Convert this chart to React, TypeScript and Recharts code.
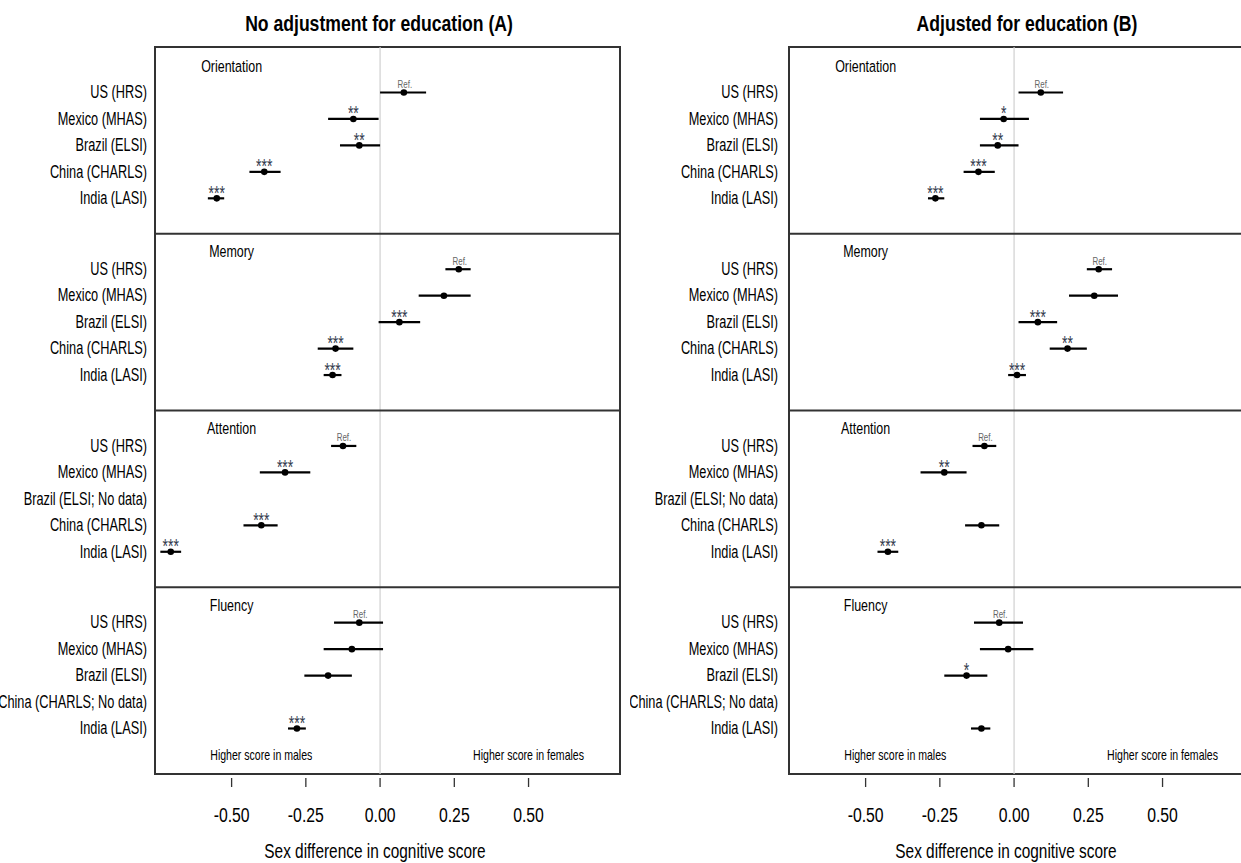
import React from 'react';
import { ScatterChart, Scatter, XAxis, YAxis, ErrorBar, ReferenceLine, ReferenceArea } from 'recharts';

const FONT = "'Liberation Sans', Arial, sans-serif";

const countries = ['US', 'Mexico', 'Brazil', 'China', 'India'];
const studies = ['HRS', 'MHAS', 'ELSI', 'CHARLS', 'LASI'];
const domains = ['Orientation', 'Memory', 'Attention', 'Fluency'];
const xTicks = [-0.5, -0.25, 0, 0.25, 0.5];
const notes = ['Higher score in males', 'Higher score in females'];

// Panel A: no adjustment for education (rows: domains, cols: countries)
const estA = [
  [0.08, -0.09, -0.07, -0.39, -0.55],
  [0.265, 0.215, 0.065, -0.15, -0.16],
  [-0.125, -0.32, null, -0.40, -0.705],
  [-0.07, -0.095, -0.175, null, -0.28],
];
const lowA = [
  [0.0, -0.175, -0.135, -0.44, -0.58],
  [0.22, 0.13, -0.005, -0.21, -0.19],
  [-0.165, -0.405, null, -0.46, -0.74],
  [-0.155, -0.19, -0.255, null, -0.31],
];
const highA = [
  [0.155, -0.005, 0.0, -0.335, -0.525],
  [0.305, 0.305, 0.135, -0.09, -0.13],
  [-0.08, -0.235, null, -0.345, -0.67],
  [0.01, 0.01, -0.095, null, -0.25],
];
const sigA = [
  ['Ref.', '**', '**', '***', '***'],
  ['Ref.', '', '***', '***', '***'],
  ['Ref.', '***', '', '***', '***'],
  ['Ref.', '', '', '', '***'],
];

// Panel B: adjusted for education
const estB = [
  [0.09, -0.035, -0.055, -0.12, -0.265],
  [0.285, 0.27, 0.08, 0.18, 0.01],
  [-0.10, -0.235, null, -0.11, -0.425],
  [-0.05, -0.02, -0.16, null, -0.11],
];
const lowB = [
  [0.015, -0.115, -0.115, -0.17, -0.29],
  [0.245, 0.185, 0.015, 0.12, -0.02],
  [-0.14, -0.315, null, -0.165, -0.46],
  [-0.135, -0.115, -0.235, null, -0.145],
];
const highB = [
  [0.165, 0.05, 0.015, -0.065, -0.235],
  [0.33, 0.35, 0.145, 0.245, 0.04],
  [-0.06, -0.16, null, -0.05, -0.39],
  [0.03, 0.065, -0.09, null, -0.08],
];
const sigB = [
  ['Ref.', '*', '**', '***', '***'],
  ['Ref.', '', '***', '**', '***'],
  ['Ref.', '**', '', '', '***'],
  ['Ref.', '', '*', '', ''],
];

// layout in "row units"
const X_DOMAIN: [number, number] = [-0.758, 0.808];
const EXTRA = 0.38;
const PAD = 1.34;
const SLOT = 6.68;
const Y_TOTAL = EXTRA * 2 + SLOT * 4;
const rowY = (k: number, i: number) => EXTRA + k * SLOT + PAD + i;
const sepY = (k: number) => EXTRA + k * SLOT;
const titleY = (k: number) => (k === 0 ? 0.96 : sepY(k) + 0.88);
const NOTE_Y = 26.95;
const NOTE_X = [-0.4, 0.5];

// condensed text: the original uses a narrow font, so squeeze horizontally
function NText({ x, y, size, sx = 0.75, anchor = 'middle', weight = 400, fill = '#000', children }: any) {
  return (
    <text
      transform={`translate(${x},${y}) scale(${sx},1)`}
      fontSize={size}
      textAnchor={anchor}
      fontWeight={weight}
      fill={fill}
      fontFamily={FONT}
    >
      {children}
    </text>
  );
}

const XTick = (props: any) => {
  const { x, y, payload } = props;
  return (
    <g>
      <line x1={x} x2={x} y1={y + 4} y2={y + 13} stroke="#333" strokeWidth={1.3} />
      <NText x={x} y={y + 48} size={20.5} sx={0.77}>{Number(payload.value).toFixed(2)}</NText>
    </g>
  );
};

const PointShape = (props: any) => {
  const { cx, cy, payload } = props;
  return (
    <g>
      <circle cx={cx} cy={cy} r={3.3} fill="#000" />
      {payload.sig === 'Ref.' && (
        <NText x={cx + 1} y={cy - 4.5} size={11} sx={0.72} fill="#666">Ref.</NText>
      )}
      {payload.sig && payload.sig !== 'Ref.' && (
        <NText x={cx} y={cy + 1.5} size={20} sx={0.7} fill="#333a4d">{payload.sig}</NText>
      )}
    </g>
  );
};

const TextShape = (props: any) => {
  const { cx, cy, payload } = props;
  return <NText x={cx} y={cy} size={payload.size} sx={0.755}>{payload.text}</NText>;
};

function Panel({ est, low, high, sig, width, yAxisWidth, labelGap, marginRight }: any) {
  const positions: number[] = [];
  const labels: string[] = [];
  const points: any[] = [];
  domains.forEach((_, k) => {
    countries.forEach((c, i) => {
      const y = rowY(k, i);
      const v = est[k][i];
      positions.push(y);
      labels.push(`${c} (${studies[i]}${v === null ? '; No data' : ''})`);
      if (v !== null) {
        points.push({ x: v, y, err: [v - low[k][i], high[k][i] - v], sig: sig[k][i] });
      }
    });
  });
  const texts = [
    ...domains.map((d, k) => ({ x: -0.5, y: titleY(k), text: d, size: 16.5 })),
    ...notes.map((n, j) => ({ x: NOTE_X[j], y: NOTE_Y, text: n, size: 14 })),
  ];

  const YTick = (props: any) => {
    const { x, y, payload } = props;
    const i = positions.findIndex((p) => Math.abs(p - payload.value) < 1e-6);
    return <NText x={x - labelGap} y={y + 5.8} size={18.5} sx={0.69} anchor="end">{labels[i]}</NText>;
  };

  return (
    <ScatterChart width={width} height={863} margin={{ top: 47, right: marginRight, bottom: 0, left: 0 }}>
      <XAxis
        type="number"
        dataKey="x"
        domain={X_DOMAIN}
        ticks={xTicks}
        interval={0}
        allowDataOverflow
        axisLine={false}
        tickLine={false}
        tickSize={0}
        tickMargin={0}
        height={89}
        tick={XTick}
      />
      <YAxis
        type="number"
        dataKey="y"
        domain={[0, Y_TOTAL]}
        reversed
        ticks={positions}
        interval={0}
        allowDataOverflow
        axisLine={false}
        tickLine={false}
        tickSize={0}
        tickMargin={0}
        width={yAxisWidth}
        tick={YTick}
      />
      <ReferenceLine x={0} stroke="#d0d0d0" strokeWidth={1.2} />
      {[1, 2, 3].map((k) => (
        <ReferenceLine key={k} y={sepY(k)} stroke="#333" strokeWidth={2} />
      ))}
      <ReferenceArea
        x1={X_DOMAIN[0]}
        x2={X_DOMAIN[1]}
        y1={0}
        y2={Y_TOTAL}
        fill="none"
        fillOpacity={0}
        stroke="#333"
        strokeWidth={2}
      />
      <Scatter data={texts} shape={TextShape} isAnimationActive={false} />
      <Scatter data={points} shape={PointShape} isAnimationActive={false}>
        <ErrorBar dataKey="err" direction="x" width={0} stroke="#000" strokeWidth={2.2} />
      </Scatter>
    </ScatterChart>
  );
}

export default function App() {
  return (
    <div style={{ position: 'absolute', left: 0, top: 0, width: 1241, height: 863, overflow: 'hidden', background: '#fff' }}>
      <div style={{ position: 'absolute', left: 0, top: 0 }}>
        <Panel est={estA} low={lowA} high={highA} sig={sigA} width={630} yAxisWidth={155} labelGap={8} marginRight={10} />
      </div>
      <div style={{ position: 'absolute', left: 630, top: 0 }}>
        <Panel est={estB} low={lowB} high={highB} sig={sigB} width={625} yAxisWidth={159} labelGap={11} marginRight={1} />
      </div>
      <svg width={1241} height={863} style={{ position: 'absolute', left: 0, top: 0, pointerEvents: 'none' }}>
        <NText x={379} y={30.5} size={22} sx={0.8} weight={700}>No adjustment for education (A)</NText>
        <NText x={1027} y={30.5} size={22} sx={0.8} weight={700}>Adjusted for education (B)</NText>
        <NText x={375} y={858} size={19.5} sx={0.79}>Sex difference in cognitive score</NText>
        <NText x={1006} y={858} size={19.5} sx={0.79}>Sex difference in cognitive score</NText>
      </svg>
    </div>
  );
}
